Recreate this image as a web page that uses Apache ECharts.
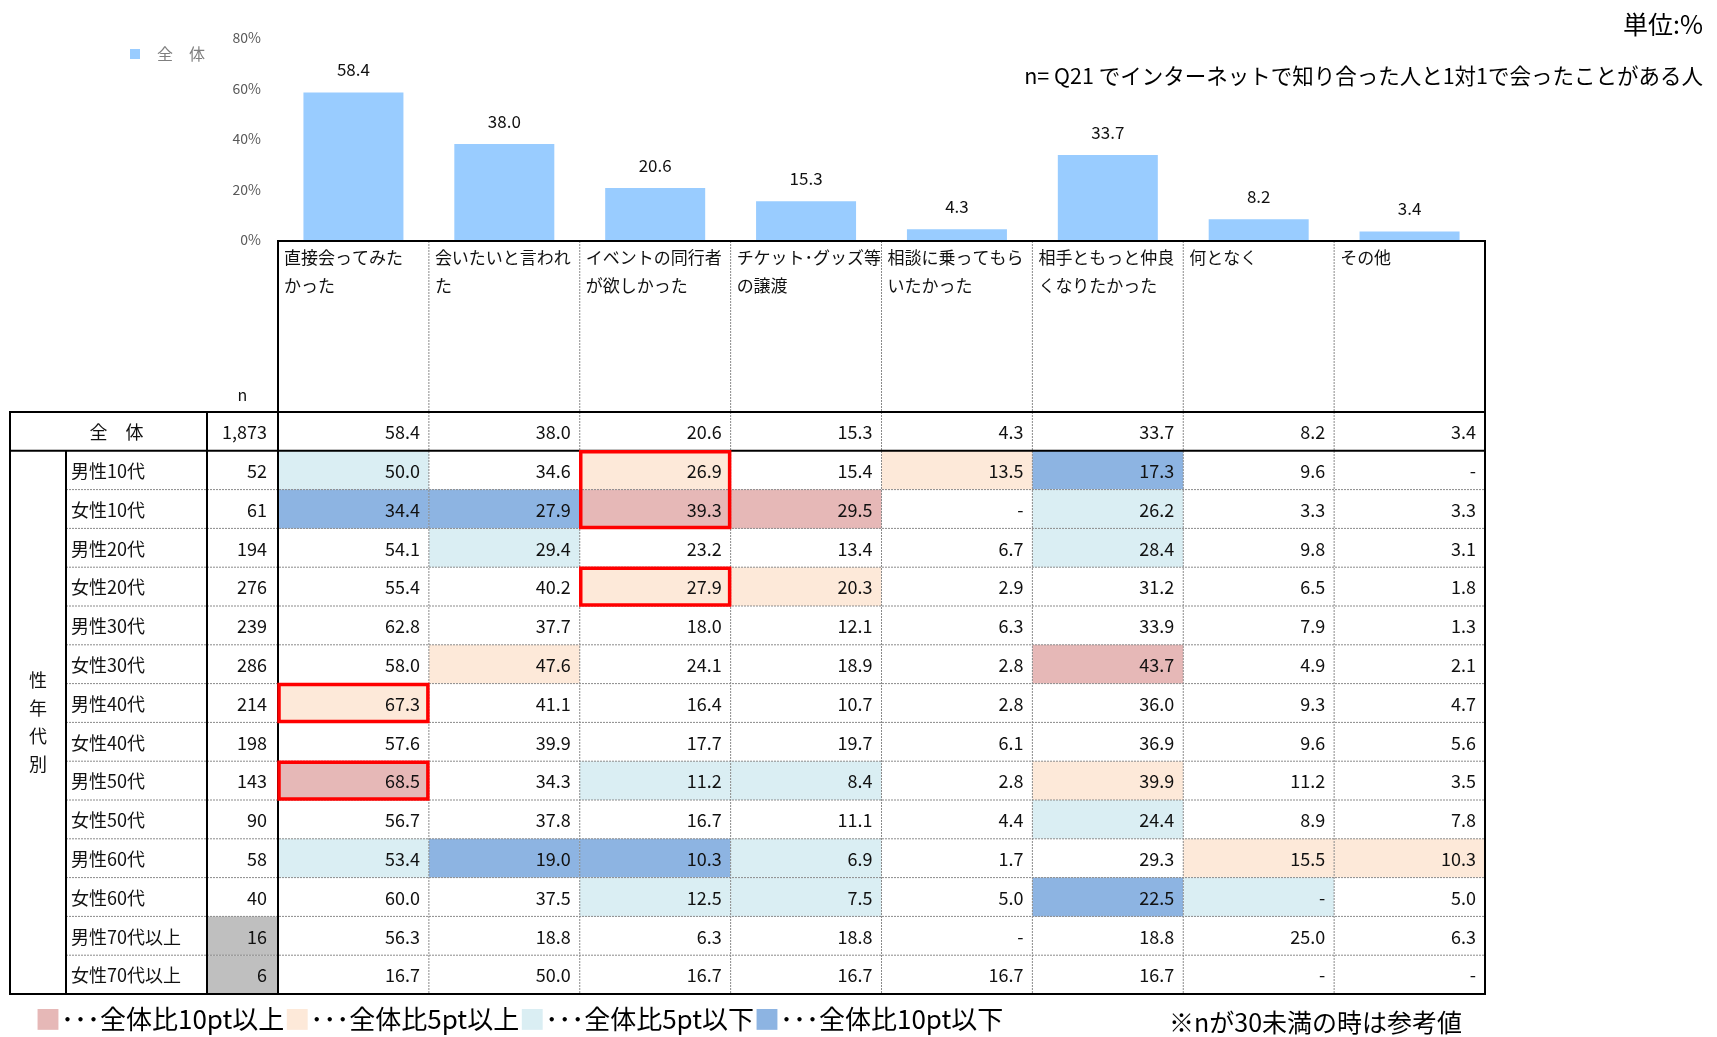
<!DOCTYPE html>
<html><head><meta charset="utf-8">
<script src="https://cdn.jsdelivr.net/npm/echarts@6/dist/echarts.min.js"></script>
<style>html,body{margin:0;padding:0;background:#fff}#c{width:1717px;height:1037px}</style>
</head><body><div id="c"></div>
<script>
// ---------- DATA ----------
const categories = ['直接会ってみた\nかった', '会いたいと言われ\nた', 'イベントの同行者\nが欲しかった', 'チケット･グッズ等\nの譲渡', '相談に乗ってもら\nいたかった', '相手ともっと仲良\nくなりたかった', '何となく', 'その他'];
const totalLabel = '全　体';
const totalN = 1873;
const totalValues = [58.4, 38.0, 20.6, 15.3, 4.3, 33.7, 8.2, 3.4];
const rowLabels = ['男性10代', '女性10代', '男性20代', '女性20代', '男性30代', '女性30代', '男性40代', '女性40代', '男性50代', '女性50代', '男性60代', '女性60代', '男性70代以上', '女性70代以上'];
const nValues = [52, 61, 194, 276, 239, 286, 214, 198, 143, 90, 58, 40, 16, 6];
const m10 = [50.0, 34.6, 26.9, 15.4, 13.5, 17.3, 9.6, null];
const f10 = [34.4, 27.9, 39.3, 29.5, null, 26.2, 3.3, 3.3];
const m20 = [54.1, 29.4, 23.2, 13.4, 6.7, 28.4, 9.8, 3.1];
const f20 = [55.4, 40.2, 27.9, 20.3, 2.9, 31.2, 6.5, 1.8];
const m30 = [62.8, 37.7, 18.0, 12.1, 6.3, 33.9, 7.9, 1.3];
const f30 = [58.0, 47.6, 24.1, 18.9, 2.8, 43.7, 4.9, 2.1];
const m40 = [67.3, 41.1, 16.4, 10.7, 2.8, 36.0, 9.3, 4.7];
const f40 = [57.6, 39.9, 17.7, 19.7, 6.1, 36.9, 9.6, 5.6];
const m50 = [68.5, 34.3, 11.2, 8.4, 2.8, 39.9, 11.2, 3.5];
const f50 = [56.7, 37.8, 16.7, 11.1, 4.4, 24.4, 8.9, 7.8];
const m60 = [53.4, 19.0, 10.3, 6.9, 1.7, 29.3, 15.5, 10.3];
const f60 = [60.0, 37.5, 12.5, 7.5, 5.0, 22.5, null, 5.0];
const m70 = [56.3, 18.8, 6.3, 18.8, null, 18.8, 25.0, 6.3];
const f70 = [16.7, 50.0, 16.7, 16.7, 16.7, 16.7, null, null];
const rowValues = [m10, f10, m20, f20, m30, f30, m40, f40, m50, f50, m60, f60, m70, f70];
// red boxes: data row index, column index, number of rows
const highlights = [[0, 2, 2], [3, 2, 1], [6, 0, 1], [8, 0, 1]];
const yTicks = [0, 20, 40, 60, 80];

// ---------- STYLE / LAYOUT ----------
const FONT = '"Noto Sans CJK JP", "Noto Sans", sans-serif';
const C_PINK = '#e6b8b7', C_PEACH = '#fde9d9', C_LBLUE = '#daeef3', C_BLUE = '#8db4e2', C_GRAY = '#bfbfbf';
const N_COL_W = 71, LABEL_W = 268, INNER_W = 56, HEADER_H = 171;

function fmt(v) { return v === null ? '-' : v.toFixed(1); }
function fillFor(rowIdx, c) {
  if (rowIdx < 0 || nValues[rowIdx] < 30) return null;
  const v = rowValues[rowIdx][c] === null ? 0 : rowValues[rowIdx][c];
  const d = Math.round((v - totalValues[c]) * 10) / 10;
  if (d >= 10) return C_PINK;
  if (d >= 5) return C_PEACH;
  if (d <= -10) return C_BLUE;
  if (d <= -5) return C_LBLUE;
  return null;
}

const tableRows = [totalLabel].concat(rowLabels);
const cellData = [], cellInfo = [];
for (let r = 0; r < tableRows.length; r++) {
  for (let c = 0; c < categories.length; c++) {
    cellData.push([c, r]);
    const v = r === 0 ? totalValues[c] : rowValues[r - 1][c];
    cellInfo.push({ text: fmt(v), fill: fillFor(r - 1, c) });
  }
}

function geom(api, c, r) {
  const p = api.coord([c, r]);
  const s = api.size([1, 1]);
  return { x: p[0] - s[0] / 2, y: p[1] - s[1] / 2, w: s[0], h: s[1], cx: p[0], cy: p[1] };
}
function txt(x, y, text, align, size, extra) {
  return Object.assign({ type: 'text', style: { x: x, y: y, text: text, align: align || 'left', verticalAlign: 'middle', font: (size || 18) + 'px ' + FONT, fill: '#111' } }, extra || {});
}
function line(x1, y1, x2, y2, dotted) {
  return { type: 'line', shape: { x1: x1, y1: y1, x2: x2, y2: y2 },
    style: dotted ? { stroke: '#8a8a8a', lineWidth: 1, lineDash: [2, 1] } : { stroke: '#000', lineWidth: 2 } };
}
const LEG = 26;
function sq(color) { return { color: color, fontSize: LEG, fontFamily: FONT }; }

const chart = echarts.init(document.getElementById('c'));
chart.setOption({
  backgroundColor: '#fff',
  animation: false,
  textStyle: { fontFamily: FONT },
  title: [
    { text: '単位:%', right: 9, top: 7, textStyle: { fontSize: 25, fontWeight: 'normal', color: '#000', fontFamily: FONT } },
    { text: 'n= Q21 でインターネットで知り合った人と1対1で会ったことがある人', right: 9, top: 60, textStyle: { fontSize: 21.5, fontWeight: 'normal', color: '#000', fontFamily: FONT } },
    { text: '{p|■}･･･全体比10pt以上{q|■}･･･全体比5pt以上{l|■}･･･全体比5pt以下{b|■}･･･全体比10pt以下', left: 30, top: 1001,
      textStyle: { fontSize: LEG, fontWeight: 'normal', color: '#000', fontFamily: FONT,
        rich: { p: sq(C_PINK), q: sq(C_PEACH), l: sq(C_LBLUE), b: sq(C_BLUE) } } },
    { text: '※nが30未満の時は参考値', left: 1164, top: 1005, textStyle: { fontSize: 25, fontWeight: 'normal', color: '#000', fontFamily: FONT } }
  ],
  legend: { data: [totalLabel], left: 125, top: 41, icon: 'rect', itemWidth: 10, itemHeight: 10,
    textStyle: { color: '#7f7f7f', fontSize: 16, padding: [0, 0, 0, 12], fontFamily: FONT } },
  grid: [
    { left: 278, width: 1207, top: 38, height: 202 },
    { left: 278, width: 1207, top: 412, height: 582 }
  ],
  xAxis: [
    { gridIndex: 0, type: 'category', data: categories, axisLine: { show: false }, axisTick: { show: false }, axisLabel: { show: false } },
    { gridIndex: 1, type: 'category', data: categories, show: false }
  ],
  yAxis: [
    { gridIndex: 0, type: 'value', min: yTicks[0], max: yTicks[yTicks.length - 1], interval: 20,
      axisLine: { show: false }, axisTick: { show: false }, splitLine: { show: false },
      axisLabel: { formatter: '{value}%', color: '#595959', fontSize: 14, margin: 17, fontFamily: FONT } },
    { gridIndex: 1, type: 'category', data: tableRows, inverse: true, show: false }
  ],
  series: [
    { name: totalLabel, type: 'bar', xAxisIndex: 0, yAxisIndex: 0, data: totalValues, barWidth: 100,
      itemStyle: { color: '#99ccff' }, silent: true,
      label: { show: true, position: 'top', distance: 14, color: '#111', fontSize: 17, fontFamily: FONT, formatter: p => p.value.toFixed(1) } },
    { type: 'custom', xAxisIndex: 1, yAxisIndex: 1, silent: true, z: 1, data: cellData,
      renderItem: function (params, api) {
        const g = geom(api, api.value(0), api.value(1));
        const info = cellInfo[params.dataIndex];
        const children = [];
        if (info.fill) children.push({ type: 'rect', shape: { x: g.x, y: g.y, width: g.w, height: g.h }, style: { fill: info.fill } });
        children.push(txt(g.x + g.w - 9, g.cy + 1, info.text, 'right', 18));
        return { type: 'group', children: children };
      } },
    { type: 'custom', xAxisIndex: 1, yAxisIndex: 1, silent: true, z: 2, data: tableRows.map((_, r) => [0, r]),
      renderItem: function (params, api) {
        const r = api.value(1);
        const g = geom(api, 0, r);
        const left = g.x - LABEL_W, nLeft = g.x - N_COL_W;
        const children = [];
        if (r === 0) {
          children.push(txt((left + nLeft) / 2 + 8, g.cy + 1, totalLabel, 'center', 18));
          children.push(txt(g.x - 11, g.cy + 1, totalN.toLocaleString('en-US'), 'right', 18));
        } else {
          const n = nValues[r - 1];
          if (n < 30) children.push({ type: 'rect', shape: { x: nLeft, y: g.y, width: N_COL_W, height: g.h }, style: { fill: C_GRAY } });
          children.push(txt(left + INNER_W + 5, g.cy + 1, rowLabels[r - 1], 'left', 18));
          children.push(txt(g.x - 11, g.cy + 1, n.toLocaleString('en-US'), 'right', 18));
        }
        return { type: 'group', children: children };
      } },
    { type: 'custom', xAxisIndex: 1, yAxisIndex: 1, silent: true, z: 2, data: categories.map((_, c) => [c, 0]),
      renderItem: function (params, api) {
        const c = api.value(0);
        const g = geom(api, c, 0);
        const top = g.y - HEADER_H;
        const children = [{ type: 'text', style: { x: g.x + 6, y: top + 3, text: categories[c], align: 'left', verticalAlign: 'top', font: '17px ' + FONT, lineHeight: 28, fill: '#111' } }];
        if (c === 0) children.push(txt(g.x - N_COL_W / 2, g.y - 17, 'n', 'center', 16));
        return { type: 'group', children: children };
      } },
    { type: 'custom', xAxisIndex: 1, yAxisIndex: 1, silent: true, z: 3, data: [[0, 0]],
      renderItem: function (params, api) {
        const g0 = geom(api, 0, 0);
        const gl = geom(api, categories.length - 1, tableRows.length - 1);
        const L = g0.x, R = gl.x + gl.w, T = g0.y, B = gl.y + gl.h, rh = g0.h, cw = g0.w;
        const X0 = L - LABEL_W, XI = X0 + INNER_W, XN = L - N_COL_W, TH = T - HEADER_H;
        const ch = [];
        for (let c = 1; c < categories.length; c++) ch.push(line(L + c * cw, TH, L + c * cw, B, true));
        for (let r = 2; r < tableRows.length; r++) ch.push(line(XI, T + r * rh, R, T + r * rh, true));
        ch.push(line(L - 1, TH, R + 1, TH));
        ch.push(line(X0 - 1, T, R + 1, T));
        ch.push(line(X0 - 1, T + rh, R + 1, T + rh));
        ch.push(line(X0 - 1, B, R + 1, B));
        ch.push(line(X0, T, X0, B));
        ch.push(line(XN, T, XN, B));
        ch.push(line(L, TH, L, B));
        ch.push(line(R, TH, R, B));
        ch.push(line(XI, T + rh, XI, B));
        ch.push({ type: 'text', style: { x: (X0 + XI) / 2, y: (T + rh + B) / 2, text: '性\n年\n代\n別', align: 'center', verticalAlign: 'middle', font: '18px ' + FONT, lineHeight: 28, fill: '#111' } });
        return { type: 'group', children: ch };
      } },
    { type: 'custom', xAxisIndex: 1, yAxisIndex: 1, silent: true, z: 4, data: highlights.map(h => [h[1], h[0] + 1, h[2]]),
      renderItem: function (params, api) {
        const g = geom(api, api.value(0), api.value(1));
        const span = api.value(2);
        return { type: 'rect', shape: { x: g.x + 1, y: g.y + 1, width: g.w - 2, height: g.h * span - 2 },
          style: { fill: 'none', stroke: '#ff0000', lineWidth: 3.5 } };
      } }
  ]
});
</script>
</body></html>
